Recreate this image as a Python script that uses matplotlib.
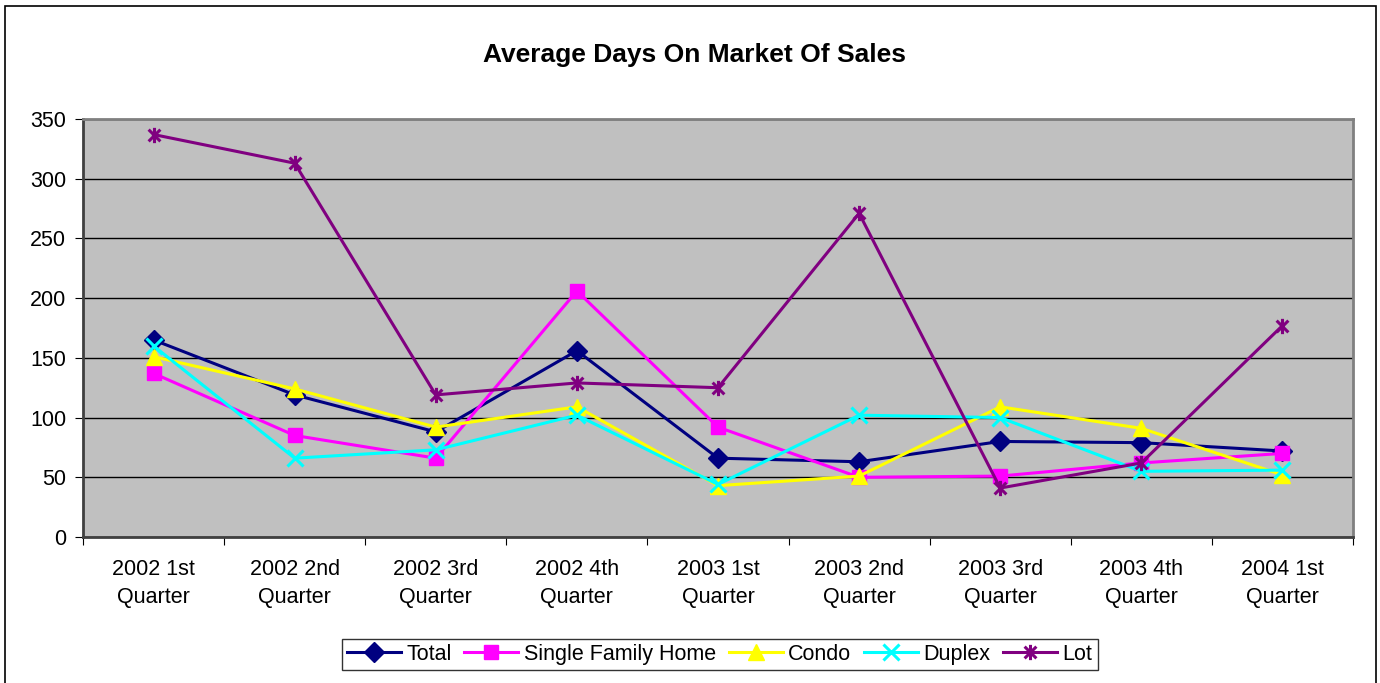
import matplotlib.pyplot as plt
from matplotlib.path import Path
from matplotlib.patches import Rectangle
import numpy as np

plt.rcParams["font.family"] = ["Liberation Sans", "DejaVu Sans"]

quarters = ["2002 1st\nQuarter", "2002 2nd\nQuarter", "2002 3rd\nQuarter",
            "2002 4th\nQuarter", "2003 1st\nQuarter", "2003 2nd\nQuarter",
            "2003 3rd\nQuarter", "2003 4th\nQuarter", "2004 1st\nQuarter"]

total = [165, 119, 88, 156, 66, 63, 80, 79, 72]
single_family = [137, 85, 66, 206, 92, 50, 51, 62, 70]
condo = [151, 124, 92, 109, 43, 51, 109, 91, 52]
duplex = [160, 66, 73, 102, 44, 102, 100, 55, 56]
lot = [337, 313, 119, 129, 125, 271, 41, 62, 177]

# excel style asterisk: an x with a vertical bar
asterisk = Path([(-1, -1), (1, 1), (-1, 1), (1, -1), (0, -1.3), (0, 1.3)],
                [Path.MOVETO, Path.LINETO, Path.MOVETO, Path.LINETO,
                 Path.MOVETO, Path.LINETO])

series = [
    ("Total", total, "#000080", "D", 10),
    ("Single Family Home", single_family, "#FF00FF", "s", 10),
    ("Condo", condo, "#FFFF00", "^", 11),
    ("Duplex", duplex, "#00FFFF", "x", 11),
    ("Lot", lot, "#800080", asterisk, 11),
]

fig = plt.figure(figsize=(13.8, 6.83), dpi=100)
ax = fig.add_axes([83 / 1380, 146 / 683, 1270 / 1380, 418 / 683])
ax.set_facecolor("#C0C0C0")

x = np.arange(len(quarters)) + 0.5
for name, vals, col, mk, ms in series:
    thin = mk in ("D", "s", "^")
    ax.plot(x, vals, color=col, lw=2.2, marker=mk, markersize=ms,
            markeredgewidth=1 if thin else 2.2,
            markerfacecolor=col, markeredgecolor=col, label=name,
            clip_on=False)

ax.set_xlim(0, len(quarters))
ax.set_ylim(0, 350)
ax.set_yticks(range(0, 351, 50))
ax.yaxis.grid(True, color="black", lw=1)
ax.set_axisbelow(True)
ax.set_xticks(range(len(quarters) + 1))
ax.set_xticklabels([])
ax.set_xticks(x, minor=True)
ax.set_xticklabels(quarters, minor=True, fontsize=15.5, linespacing=1.45)
ax.tick_params(axis="x", which="minor", length=0, pad=16)
ax.tick_params(axis="x", which="major", direction="out", length=6, color="black")
ax.tick_params(axis="y", direction="out", length=6, labelsize=15.5, pad=6)
for s in ax.spines.values():
    s.set_color("#808080")
    s.set_linewidth(2)
ax.spines["left"].set_color("#404040")
ax.spines["bottom"].set_color("#404040")

fig.text(0.503, 0.919, "Average Days On Market Of Sales", ha="center",
         va="center", fontsize=19, fontweight="bold")

leg = fig.legend(loc="center", bbox_to_anchor=(0.5214, 0.0417), ncol=5,
                 fontsize=15.5, frameon=True, fancybox=False, edgecolor="black",
                 handlelength=2.5, handletextpad=0.25, columnspacing=0.6,
                 borderpad=0.25)
leg.get_frame().set_linewidth(1)

fig.patches.append(Rectangle((5 / 1380, -0.02), 1371 / 1380, 1.02 - 6 / 683,
                             transform=fig.transFigure, fill=False,
                             edgecolor="black", lw=1.2))

fig.savefig("out.png", dpi=100)
